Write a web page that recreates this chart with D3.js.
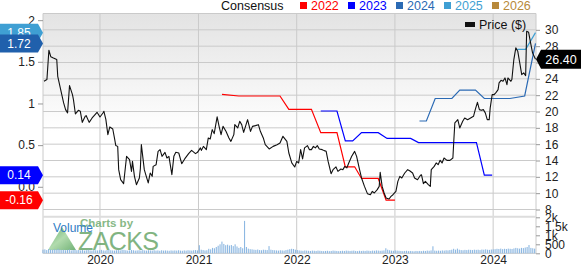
<!DOCTYPE html>
<html>
<head>
<meta charset="utf-8">
<script src="https://cdn.jsdelivr.net/npm/d3@7"></script>
<style>
body { margin: 0; background: #fff; }
svg { display: block; font-family: "Liberation Sans", Arial, sans-serif; }
</style>
</head>
<body>
<div class="chart"></div>
<script>
// DATA ------------------------------
// price, [decimal year, $]
const priceSeries = [
  [2019.43,23.70],[2019.46,23.91],[2019.48,27.50],[2019.50,26.69],[2019.52,26.57],[2019.56,26.36],[2019.57,24.31],[2019.60,22.68],
  [2019.63,21.05],[2019.65,20.23],[2019.67,19.83],[2019.69,23.17],[2019.72,22.07],[2019.73,21.45],[2019.75,19.70],[2019.78,20.14],
  [2019.80,20.02],[2019.82,18.67],[2019.85,19.41],[2019.86,19.49],[2019.89,18.67],[2019.92,19.21],[2019.95,19.62],[2019.97,19.90],
  [2020.00,19.33],[2020.03,19.82],[2020.04,20.02],[2020.06,19.00],[2020.08,17.17],[2020.10,18.11],[2020.13,17.86],[2020.15,16.55],
  [2020.16,15.85],[2020.18,15.73],[2020.19,12.88],[2020.21,11.65],[2020.24,11.16],[2020.27,14.51],[2020.30,14.10],[2020.32,12.67],
  [2020.33,13.89],[2020.35,12.06],[2020.37,11.04],[2020.40,11.86],[2020.41,12.99],[2020.42,15.94],[2020.45,12.88],[2020.47,12.06],
  [2020.49,11.25],[2020.51,12.47],[2020.53,12.06],[2020.54,13.28],[2020.57,13.49],[2020.59,15.12],[2020.61,15.33],[2020.63,14.51],
  [2020.66,15.00],[2020.68,14.31],[2020.70,14.51],[2020.73,12.26],[2020.75,14.51],[2020.77,15.00],[2020.80,14.92],[2020.83,13.61],
  [2020.86,14.19],[2020.90,14.84],[2020.93,15.24],[2020.97,14.84],[2020.99,15.00],[2021.02,15.54],[2021.03,15.24],[2021.05,15.73],
  [2021.08,15.33],[2021.10,16.76],[2021.12,16.64],[2021.14,17.78],[2021.16,17.29],[2021.19,19.34],[2021.21,18.18],[2021.23,17.17],
  [2021.25,18.18],[2021.28,17.57],[2021.31,16.76],[2021.33,16.34],[2021.36,17.17],[2021.37,18.39],[2021.40,17.99],[2021.42,18.80],
  [2021.44,18.39],[2021.46,17.45],[2021.50,19.00],[2021.53,17.57],[2021.55,18.18],[2021.58,18.27],[2021.61,18.39],[2021.63,17.57],
  [2021.66,16.76],[2021.68,15.94],[2021.72,15.41],[2021.76,15.73],[2021.80,15.94],[2021.83,16.15],[2021.86,16.96],[2021.90,16.34],
  [2021.92,14.92],[2021.95,13.70],[2021.98,13.21],[2022.00,13.89],[2022.02,13.70],[2022.04,15.33],[2022.06,14.19],[2022.08,15.54],
  [2022.11,15.82],[2022.13,15.33],[2022.15,15.33],[2022.17,15.73],[2022.19,15.54],[2022.21,15.82],[2022.23,15.41],[2022.26,15.33],
  [2022.28,15.21],[2022.30,15.12],[2022.32,13.89],[2022.35,12.39],[2022.37,12.88],[2022.40,13.21],[2022.42,12.67],[2022.45,12.96],
  [2022.47,12.88],[2022.49,13.28],[2022.51,13.09],[2022.53,13.70],[2022.56,14.51],[2022.59,15.12],[2022.61,14.51],[2022.64,12.88],
  [2022.66,11.86],[2022.69,10.83],[2022.72,9.94],[2022.75,9.81],[2022.77,10.22],[2022.79,10.02],[2022.82,10.43],[2022.84,10.83],
  [2022.85,12.55],[2022.87,10.83],[2022.89,10.02],[2022.91,9.41],[2022.94,9.29],[2022.96,9.60],[2022.98,9.81],[2023.01,10.22],
  [2023.03,11.44],[2023.05,12.06],[2023.07,11.86],[2023.10,12.47],[2023.13,12.88],[2023.15,12.75],[2023.18,12.47],[2023.20,11.86],
  [2023.23,11.65],[2023.26,12.20],[2023.27,12.26],[2023.29,11.16],[2023.31,11.44],[2023.34,11.04],[2023.36,10.83],[2023.37,12.88],
  [2023.40,13.28],[2023.42,13.70],[2023.44,13.49],[2023.46,14.02],[2023.48,13.70],[2023.50,14.31],[2023.53,14.02],[2023.56,14.02],
  [2023.59,14.31],[2023.60,16.55],[2023.61,18.60],[2023.64,19.00],[2023.66,17.99],[2023.69,18.80],[2023.71,19.21],[2023.74,19.00],
  [2023.77,19.21],[2023.80,19.41],[2023.82,20.32],[2023.84,21.12],[2023.86,20.23],[2023.88,20.14],[2023.90,20.23],[2023.92,19.83],
  [2023.94,19.00],[2023.96,19.00],[2023.97,20.44],[2023.99,22.07],[2024.01,22.07],[2024.03,22.35],[2024.05,22.68],[2024.06,23.50],
  [2024.08,23.82],[2024.10,23.70],[2024.12,24.11],[2024.14,23.29],[2024.15,24.11],[2024.18,23.70],[2024.19,23.91],[2024.21,26.36],
  [2024.23,27.79],[2024.25,27.37],[2024.27,25.95],[2024.29,24.52],[2024.31,24.73],[2024.33,24.40],[2024.34,29.83],[2024.36,29.70],
  [2024.38,28.40],[2024.40,27.18],[2024.43,26.40]
];

// consensus EPS estimates, [decimal year, EPS]
const cons2022 = [[2021.24,1.11],[2021.41,1.09],[2021.83,1.09],[2021.92,0.93],[2022.15,0.93],[2022.245,0.65],[2022.41,0.65],
  [2022.495,0.24],[2022.59,0.24],[2022.66,0.10],[2022.83,0.10],[2022.91,-0.16],[2023.00,-0.16]];
const cons2023 = [[2022.245,0.91],[2022.41,0.91],[2022.495,0.55],[2022.57,0.55],[2022.66,0.65],[2022.83,0.65],[2022.92,0.58],
  [2023.16,0.58],[2023.24,0.53],[2023.83,0.53],[2023.91,0.14],[2023.99,0.14]];
const cons2024 = [[2023.25,0.79],[2023.32,0.79],[2023.41,1.06],[2023.58,1.06],[2023.66,1.16],[2023.82,1.16],[2023.91,1.06],
  [2024.17,1.06],[2024.32,1.09],[2024.43,1.72]];
const cons2025 = [[2024.245,1.65],[2024.33,1.65],[2024.43,1.85]];

// weekly volume, first week starting 2019-06-03
const volumeStart = new Date(2019, 5, 3);
const volumeWeekly = [
  200,220,180,240,210,190,230,200,250,210, 180,200,170,190,210,160,180,200,170,190,
  160,180,150,170,200,160,150,180,170,160, 170,190,160,150,180,200,170,160,150,170,
  180,160,200,190,170,150,160,180,170,150, 160,170,150,180,160,150,170,160,150,170,
  150,160,140,170,150,160,150,140,160,150, 160,150,170,150,140,160,150,170,160,150,
  170,180,160,450,200,180,160,170,250,220, 300,280,350,420,500,650,520,450,480,430,
  460,400,500,380,300,350,280,1800,350,260, 230,220,200,190,210,180,170,200,190,180,
  400,200,180,170,160,150,170,160,150,180, 200,230,250,240,200,180,160,150,140,160,
  150,140,130,150,140,130,150,140,130,120, 130,140,120,130,150,140,130,120,130,140,
  130,150,140,130,140,150,130,120,140,130, 140,130,150,140,130,150,140,160,150,140,
  150,160,280,200,170,150,140,160,150,140, 130,120,130,140,120,130,120,110,130,120,
  130,120,140,130,150,140,160,390,150,140, 150,140,160,150,170,160,180,200,250,200,
  260,200,180,170,190,180,200,190,180,200, 190,200,180,210,200,220,200,190,210,220,
  230,250,240,260,230,250,240,260,250,240, 270,300,280,260,300,290,320,350,460,300,
  280,260
];

const leftTicks = [0, 0.5, 1, 1.5, 2];
const leftTickLabels = ["0.0", "0.5", "1", "1.5", "2"];
const priceTicks = [8, 10, 12, 14, 16, 18, 20, 22, 24, 26, 28, 30];
const priceGrid = [8, 10, 12, 14, 16, 18, 20, 22, 24, 26, 28, 30, 32];
const volTicks = [0, 500, 1000, 1500, 2000];
const volTickLabels = ["0", "500", "1k", "1.5k", "2k"];

const legendYears = ["2022", "2023", "2024", "2025", "2026"];
const legendColors = ["#ff0000", "#0000ff", "#2b6ab4", "#3f9fd3", "#b8893a"];

const tagValues = [1.85, 1.72, 0.14, -0.16];
const tagLabels = ["1.85", "1.72", "0.14", "-0.16"];
const tagColors = ["#3f9fd3", "#2060ac", "#0000ff", "#ff0000"];
const lastPrice = 26.40;

// CHART INIT ------------------------------
const W = 581, H = 265;
const margin = ({top: 13.5, right: 45, bottom: 11.7, left: 43});
const mainBottom = 209.5;
const volTop = 217.3;
const plotRight = W - margin.right;
const volBottom = H - margin.bottom;

function yearToDate(t) {
  const y = Math.floor(t);
  const a = new Date(y, 0, 1), b = new Date(y + 1, 0, 1);
  return new Date(+a + (t - y) * (b - a));
}

const svg = d3.select(".chart")
  .append("svg")
  .attr("width", W)
  .attr("height", H);

const defs = svg.append("defs");
const grad = defs.append("linearGradient")
  .attr("id", "bg").attr("x1", 0).attr("y1", 0).attr("x2", 0).attr("y2", 1);
grad.append("stop").attr("offset", "0").attr("stop-color", "#e3e3e3");
grad.append("stop").attr("offset", "0.6").attr("stop-color", "#ffffff");
grad.append("stop").attr("offset", "1").attr("stop-color", "#ffffff");

const zgrad = defs.append("linearGradient")
  .attr("id", "zg").attr("x1", 0).attr("y1", 0).attr("x2", 1).attr("y2", 1);
zgrad.append("stop").attr("offset", "0").attr("stop-color", "#3f9a45");
zgrad.append("stop").attr("offset", "0.5").attr("stop-color", "#9fd39a");
zgrad.append("stop").attr("offset", "1").attr("stop-color", "#4f9f55");

defs.append("clipPath").attr("id", "clip")
  .append("rect")
  .attr("x", margin.left).attr("y", margin.top)
  .attr("width", plotRight - margin.left).attr("height", mainBottom - margin.top);

// scales
const xScale = d3.scaleTime()
  .domain([yearToDate(2019.42), yearToDate(2024.435)])
  .range([margin.left, plotRight]);

const yPrice = d3.scaleLinear()
  .domain([8, 32])
  .range([mainBottom, margin.top]);

const yEps = d3.scaleLinear()
  .domain([-0.2725, 2.08])
  .range([mainBottom, margin.top]);

const yVol = d3.scaleLinear()
  .domain([0, 2000])
  .range([volBottom, volTop]);

// background
svg.append("rect")
  .attr("x", margin.left).attr("y", margin.top)
  .attr("width", plotRight - margin.left).attr("height", mainBottom - margin.top)
  .attr("fill", "url(#bg)");

// horizontal grid (price)
svg.append("g").selectAll("line")
  .data(priceGrid)
  .join("line")
  .attr("x1", margin.left).attr("x2", plotRight)
  .attr("y1", d => yPrice(d)).attr("y2", d => yPrice(d))
  .attr("stroke", "#cacaca").attr("stroke-width", 1);

// vertical grid (years), runs through volume panel
const years = xScale.ticks(d3.timeYear.every(1));
svg.append("g").selectAll("line")
  .data(years)
  .join("line")
  .attr("x1", d => xScale(d)).attr("x2", d => xScale(d))
  .attr("y1", margin.top).attr("y2", volBottom)
  .attr("stroke", "#cacaca").attr("stroke-width", 1);

// borders
svg.append("line")
  .attr("x1", margin.left).attr("x2", margin.left)
  .attr("y1", margin.top).attr("y2", volBottom)
  .attr("stroke", "#cacaca");
svg.append("line")
  .attr("x1", plotRight).attr("x2", plotRight)
  .attr("y1", margin.top).attr("y2", volBottom)
  .attr("stroke", "#cacaca");
svg.append("line")
  .attr("x1", margin.left).attr("x2", plotRight)
  .attr("y1", volTop - 0.5).attr("y2", volTop - 0.5)
  .attr("stroke", "#dddddd").attr("stroke-width", 2);
svg.append("line")
  .attr("x1", margin.left).attr("x2", plotRight)
  .attr("y1", volBottom).attr("y2", volBottom)
  .attr("stroke", "#cacaca");

// watermark
const wm = svg.append("g").attr("opacity", 0.8);
wm.append("path")
  .attr("d", "M48,250 L62,227 L76,250 Z")
  .attr("fill", "url(#zg)");
wm.append("text")
  .attr("x", 80).attr("y", 226.5)
  .attr("font-size", 11.5).attr("font-weight", "bold")
  .attr("fill", "#6aa86a")
  .text("Charts by");
wm.append("text")
  .attr("x", 78).attr("y", 250)
  .attr("font-size", 25)
  .attr("fill", "#62a262")
  .attr("textLength", 81)
  .text("ZACKS");

// volume bars
svg.append("g").selectAll("rect")
  .data(volumeWeekly)
  .join("rect")
  .attr("x", (d, i) => xScale(d3.timeWeek.offset(volumeStart, i)) - 0.5)
  .attr("width", 1.1)
  .attr("y", d => yVol(d))
  .attr("height", d => volBottom - yVol(d))
  .attr("fill", "#8db8e2");

svg.append("text")
  .attr("x", 53).attr("y", 232)
  .attr("font-size", 12)
  .attr("fill", "#2f7cc4")
  .text("Volume");

// consensus lines
const epsLine = d3.line()
  .x(d => xScale(yearToDate(d[0])))
  .y(d => yEps(d[1]));

const lines = svg.append("g").attr("clip-path", "url(#clip)");
[cons2022, cons2023, cons2024, cons2025].forEach((s, i) => {
  lines.append("path")
    .datum(s)
    .attr("d", epsLine)
    .attr("fill", "none")
    .attr("stroke", legendColors[i])
    .attr("stroke-width", 1.2);
});

// price line
const priceLine = d3.line()
  .x(d => xScale(yearToDate(d[0])))
  .y(d => yPrice(d[1]));

lines.append("path")
  .datum(priceSeries)
  .attr("d", priceLine)
  .attr("fill", "none")
  .attr("stroke", "#111")
  .attr("stroke-width", 1.1)
  .attr("stroke-linejoin", "round");

// axes
const leftAxis = d3.axisLeft(yEps)
  .tickValues(leftTicks)
  .tickFormat((d, i) => leftTickLabels[i])
  .tickSize(5).tickPadding(3);
svg.append("g")
  .attr("class", "axis left")
  .attr("transform", `translate(${margin.left},0)`)
  .call(leftAxis);

const rightAxis = d3.axisRight(yPrice)
  .tickValues(priceTicks)
  .tickFormat(d3.format("d"))
  .tickSize(4).tickPadding(5);
svg.append("g")
  .attr("class", "axis right")
  .attr("transform", `translate(${plotRight},0)`)
  .call(rightAxis);

const volAxis = d3.axisRight(yVol)
  .tickValues(volTicks)
  .tickFormat((d, i) => volTickLabels[i])
  .tickSize(4).tickPadding(5);
svg.append("g")
  .attr("class", "axis vol")
  .attr("transform", `translate(${plotRight},0)`)
  .call(volAxis);

const xAxis = d3.axisBottom(xScale)
  .ticks(d3.timeYear.every(1))
  .tickFormat(d3.timeFormat("%Y"))
  .tickSize(0).tickPadding(2);
svg.append("g")
  .attr("class", "axis x")
  .attr("transform", `translate(0,${volBottom})`)
  .call(xAxis);

svg.selectAll(".axis .domain").remove();
svg.selectAll(".axis line").attr("stroke", "#999");
svg.selectAll(".axis text")
  .attr("font-family", "Liberation Sans, Arial, sans-serif")
  .attr("font-size", 12)
  .attr("fill", "#222");

// top legend
svg.append("text")
  .attr("x", 221).attr("y", 10)
  .attr("font-size", 12.5).attr("fill", "#111")
  .text("Consensus");
const lg = svg.append("g").selectAll("g")
  .data(legendYears)
  .join("g")
  .attr("transform", (d, i) => `translate(${300 + i * 48},0)`);
lg.append("rect")
  .attr("x", 0).attr("y", 2).attr("width", 7).attr("height", 7)
  .attr("fill", (d, i) => legendColors[i]);
lg.append("text")
  .attr("x", 11).attr("y", 10)
  .attr("font-size", 12.5)
  .attr("fill", (d, i) => legendColors[i])
  .text(d => d);

// price legend inside plot
svg.append("rect")
  .attr("x", 465).attr("y", 22).attr("width", 10).attr("height", 5)
  .attr("fill", "#111");
svg.append("text")
  .attr("x", 479).attr("y", 29)
  .attr("font-size", 12.5).attr("fill", "#111")
  .text("Price ($)");

// value tags on the left
const tags = svg.append("g").selectAll("g")
  .data(tagValues)
  .join("g")
  .attr("transform", d => `translate(0,${yEps(d)})`);
tags.append("path")
  .attr("d", "M0,-9 H38 L43,0 L38,9 H0 Z")
  .attr("fill", (d, i) => tagColors[i]);
tags.append("text")
  .attr("x", 19).attr("y", 4.3)
  .attr("text-anchor", "middle")
  .attr("font-size", 12).attr("fill", "#fff")
  .text((d, i) => tagLabels[i]);

// last price tag on the right
const pt = svg.append("g").attr("transform", `translate(${plotRight},${yPrice(lastPrice)})`);
pt.append("path")
  .attr("d", `M0,0 L5,-9.5 H${W - plotRight} V9.5 H5 Z`)
  .attr("fill", "#000");
pt.append("text")
  .attr("x", 25).attr("y", 4.3)
  .attr("text-anchor", "middle")
  .attr("font-size", 12.5).attr("fill", "#fff")
  .text(d3.format(".2f")(lastPrice));
</script>
</body>
</html>
